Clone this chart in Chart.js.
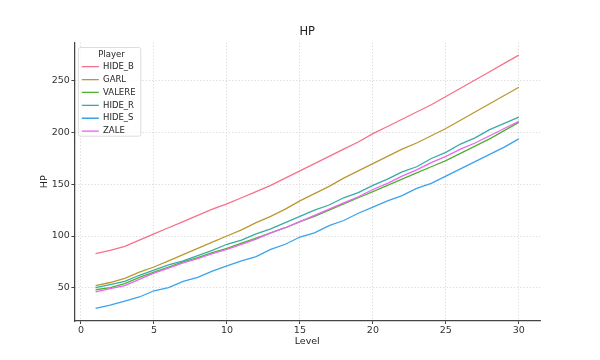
<!DOCTYPE html>
<html>
<head>
<meta charset="utf-8">
<script src="https://cdn.jsdelivr.net/npm/chart.js@4.4.1/dist/chart.umd.min.js"></script>
<style>
  html, body { margin: 0; padding: 0; background: #fff; }
  #wrap { width: 600px; height: 360px; }
</style>
</head>
<body>
<div id="wrap"><canvas id="chart" width="600" height="360"></canvas></div>
<script>
// HP per level for each player
const levels = [1, 2, 3, 4, 5, 6, 7, 8, 9, 10, 11, 12, 13, 14, 15, 16, 17, 18, 19, 20, 21, 22, 23, 24, 25, 26, 27, 28, 29, 30];

const hideB = [83, 86, 90, 96, 102, 108, 114, 120, 126, 131, 137, 143, 149, 156, 163, 170, 177, 184, 191, 199, 206, 213, 220, 227, 235, 243, 251, 259, 267, 275];
const garl = [52, 55, 59, 65, 70, 76, 82, 88, 94, 100, 106, 113, 119, 126, 134, 141, 148, 156, 163, 170, 177, 184, 190, 197, 204, 212, 220, 228, 236, 244];
const valere = [48, 50, 54, 60, 65, 70, 75, 79, 84, 88, 93, 98, 103, 108, 114, 119, 125, 131, 137, 143, 149, 155, 161, 167, 173, 180, 187, 194, 202, 210];
const hideR = [50, 53, 56, 62, 67, 72, 76, 81, 86, 92, 96, 102, 107, 113, 119, 125, 130, 137, 142, 149, 155, 162, 167, 175, 181, 189, 195, 203, 209, 215];
const hideS = [30, 33, 37, 41, 47, 50, 56, 60, 66, 71, 76, 80, 87, 92, 99, 103, 110, 115, 122, 128, 134, 139, 146, 151, 158, 165, 172, 179, 186, 194];
const zale = [46, 49, 52, 58, 64, 69, 74, 78, 83, 87, 92, 97, 103, 108, 114, 120, 126, 132, 138, 145, 151, 158, 164, 171, 177, 184, 190, 197, 204, 211];

const players = ["HIDE_B", "GARL", "VALERE", "HIDE_R", "HIDE_S", "ZALE"];
const series = [hideB, garl, valere, hideR, hideS, zale];

const xTicks = [0, 5, 10, 15, 20, 25, 30];
const yTicks = [50, 100, 150, 200, 250];

// seaborn "husl" palette, 6 colours
const COLORS = ["#f77189", "#bb9832", "#50b131", "#36ada4", "#3ba3ec", "#e866f4"];

Chart.defaults.font.family = "'DejaVu Sans', sans-serif";
Chart.defaults.color = "#333";

// matplotlib-style legend frame, drawn over the grid and then the legend on top of it
const legendFrame = {
  id: "legendFrame",
  afterLayout(chart) {
    const lg = chart.legend;
    lg.left = chart.chartArea.left + 3;
    lg.top = chart.chartArea.top;
    lg.bottom = chart.chartArea.bottom;
  },
  beforeDatasetsDraw(chart) {
    const { ctx, chartArea } = chart;
    ctx.save();
    ctx.beginPath();
    ctx.roundRect(chartArea.left + 4, chartArea.top + 5, 62.4, 88.7, 2);
    ctx.fillStyle = "rgba(255,255,255,0.8)";
    ctx.fill();
    ctx.strokeStyle = "#d4d4d4";
    ctx.lineWidth = 0.8;
    ctx.stroke();
    ctx.restore();
    chart.legend.draw();
  },
};

const gridOpts = { color: "#cfcfcf", lineWidth: 0.8, tickColor: "#444", tickLength: 3, tickWidth: 1 };
const borderOpts = { color: "#444", width: 1.25, dash: [1.2, 2] };

new Chart(document.getElementById("chart"), {
  type: "line",
  data: {
    labels: levels,
    datasets: players.map((name, i) => ({
      label: name,
      data: series[i],
      borderColor: COLORS[i],
      backgroundColor: COLORS[i],
      borderWidth: 1.3,
      pointRadius: 0,
      tension: 0,
      order: players.length - i,
    })),
  },
  options: {
    responsive: false,
    animation: false,
    layout: { padding: { top: 0, left: 0, right: 60, bottom: 0 } },
    plugins: {
      tooltip: { enabled: false },
      title: {
        display: true,
        text: "HP",
        fullSize: false,
        color: "#222",
        font: { size: 11.5, weight: "normal" },
        padding: { top: 25.1, bottom: 3.6 },
      },
      legend: {
        position: "chartArea",
        align: "start",
        title: {
          display: true,
          text: "Player",
          color: "#333",
          font: { size: 8.5, lineHeight: 0.85 },
          padding: { top: 8.25, bottom: 0 },
        },
        labels: {
          usePointStyle: true,
          pointStyle: "line",
          pointStyleWidth: 17,
          boxHeight: 8.5,
          padding: 4.4,
          color: "#333",
          font: { size: 8.5 },
          sort: (a, b) => a.datasetIndex - b.datasetIndex,
        },
      },
    },
    scales: {
      x: {
        type: "linear",
        min: -0.45,
        max: 31.45,
        afterBuildTicks: (scale) => { scale.ticks = xTicks.map((v) => ({ value: v })); },
        afterFit: (scale) => { scale.height = 39; },
        grid: gridOpts,
        border: borderOpts,
        ticks: { font: { size: 9.5 }, color: "#333", padding: 1, maxRotation: 0, autoSkip: false },
        title: { display: true, text: "Level", color: "#222", font: { size: 9.5 }, padding: { top: 0, bottom: 13 } },
      },
      y: {
        type: "linear",
        min: 17.75,
        max: 287.25,
        afterBuildTicks: (scale) => { scale.ticks = yTicks.map((v) => ({ value: v })); },
        afterFit: (scale) => { scale.width = 74.4; },
        grid: gridOpts,
        border: borderOpts,
        ticks: { font: { size: 9.5 }, color: "#333", padding: 1.5, autoSkip: false },
        title: { display: true, text: "HP", color: "#222", font: { size: 9.5 }, padding: { top: 39, bottom: 0 } },
      },
    },
  },
  plugins: [legendFrame],
});
</script>
</body>
</html>
